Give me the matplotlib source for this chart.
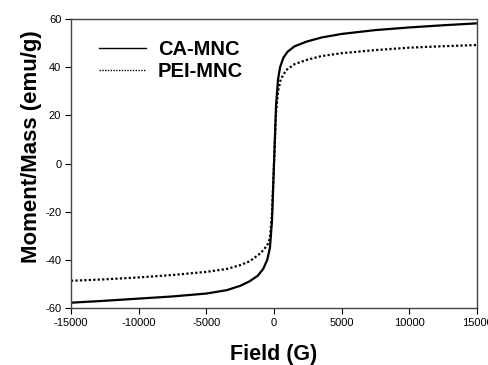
import matplotlib
matplotlib.use('Agg')
from matplotlib import pyplot as plt

plt.rcParams['font.family'] = ['Liberation Sans', 'DejaVu Sans']
plt.rcParams['axes.unicode_minus'] = False

# magnetization curves
field_ca = [-15000, -12500, -10000, -7500, -5000, -3500, -2500, -1800, -1200, -800,
            -500, -300, -150, 0, 150, 300, 450, 700, 1000, 1500, 2400, 3500,
            5000, 7500, 10000, 12500, 15000]
moment_ca = [-57.8, -57.0, -56.1, -55.2, -54.0, -52.6, -50.8, -48.9, -46.6, -43.8,
             -40.0, -35.0, -24.0, 0.0, 24.0, 35.0, 40.0, 44.0, 46.4, 48.6, 50.6, 52.3,
             53.8, 55.4, 56.5, 57.4, 58.2]

field_pei = [-15000, -12500, -10000, -7500, -5000, -3500, -2500, -1800, -1000, -500,
             -300, -150, 0, 150, 300, 500, 900, 1500, 2400, 3500,
             5000, 7500, 10000, 12500, 15000]
moment_pei = [-48.7, -48.1, -47.3, -46.3, -45.0, -43.8, -42.2, -40.6, -37.3, -34.0,
              -31.0, -21.0, 0.0, 21.0, 30.0, 35.0, 38.8, 41.2, 43.0, 44.6,
              45.8, 47.1, 48.1, 48.7, 49.2]

xticks = [-15000, -10000, -5000, 0, 5000, 10000, 15000]
yticks = [-60, -40, -20, 0, 20, 40, 60]

fig = plt.figure(figsize=(4.89, 3.65), dpi=100)
ax = fig.add_axes([71 / 489, 1 - 308 / 365, 406 / 489, 289 / 365])

ax.plot(field_ca, moment_ca, color='black', lw=1.6, label='CA-MNC')
ax.plot(field_pei, moment_pei, color='black', lw=1.6, linestyle=(0, (1, 1)), label='PEI-MNC')

ax.set_xlim(-15000, 15000)
ax.set_ylim(-60, 60)
ax.set_xticks(xticks)
ax.set_yticks(yticks)
ax.tick_params(direction='out', length=4, width=0.8, labelsize=8, pad=3)

for s in ax.spines.values():
    s.set_color('#444444')
    s.set_linewidth(1.0)

ax.set_xlabel('Field (G)', fontsize=15.5, fontweight='bold', labelpad=11.5)
ax.set_ylabel('Moment/Mass (emu/g)', fontsize=16, fontweight='bold', labelpad=2.5)
ax.yaxis.label.set_y(0.56)

leg = ax.legend(loc='upper left', bbox_to_anchor=(0.025, 0.99), frameon=False,
                prop={'size': 14.5, 'weight': 'bold'}, handlelength=2.3,
                handletextpad=0.6, labelspacing=0.15)
for h in leg.get_lines():
    h.set_linewidth(1.0)

fig.savefig('out.png', dpi=100)
